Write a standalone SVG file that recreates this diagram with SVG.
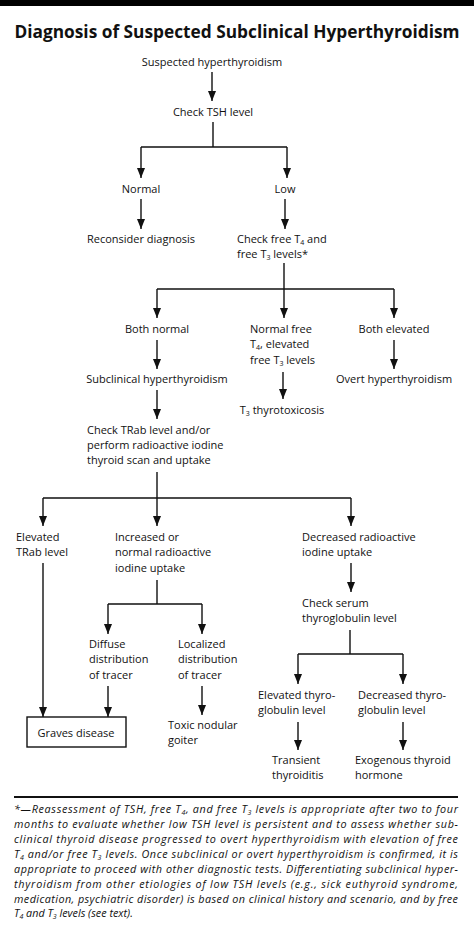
<svg xmlns="http://www.w3.org/2000/svg" width="474" height="928" viewBox="0 0 474 928">
<style>
text{font-family:"Open Sans","Noto Sans","Liberation Sans",sans-serif;font-size:11px;fill:#111}
.t{font-weight:bold;font-size:17.3px}
.m{text-anchor:middle}
.fn{font-style:italic;font-size:10.8px}
.c path{fill:none;stroke:#111;stroke-width:1.4}
.s{font-size:7px}
</style>
<defs>
<marker id="ah" markerUnits="userSpaceOnUse" markerWidth="10" markerHeight="8" refX="10" refY="4" orient="auto">
<path d="M0,0 L10,4 L0,8 Z" fill="#111"/>
</marker>
</defs>
<rect x="0" y="0" width="474" height="6" fill="#000"/>
<text class="t" x="237" y="38" text-anchor="middle">Diagnosis of Suspected Subclinical Hyperthyroidism</text>

<g class="c" id="connectors">
<path d="M212,72 V101" marker-end="url(#ah)"/>
<path d="M213,122 V147 M141,147 H287"/>
<path d="M141,147 V178" marker-end="url(#ah)"/>
<path d="M287,147 V178" marker-end="url(#ah)"/>
<path d="M141,199 V229" marker-end="url(#ah)"/>
<path d="M285,199 V229" marker-end="url(#ah)"/>
<path d="M284,263 V318" marker-end="url(#ah)"/>
<path d="M157,289 H394"/>
<path d="M157,289 V318" marker-end="url(#ah)"/>
<path d="M394,289 V318" marker-end="url(#ah)"/>
<path d="M157,340 V369" marker-end="url(#ah)"/>
<path d="M394,340 V369" marker-end="url(#ah)"/>
<path d="M283,372 V399" marker-end="url(#ah)"/>
<path d="M157,390 V419" marker-end="url(#ah)"/>
<path d="M157,472 V498 M43,498 H351"/>
<path d="M43,498 V526" marker-end="url(#ah)"/>
<path d="M157,498 V526" marker-end="url(#ah)"/>
<path d="M351,498 V526" marker-end="url(#ah)"/>
<path d="M43,563 V717" marker-end="url(#ah)"/>
<path d="M157,580 V604 M108,604 H202"/>
<path d="M108,604 V634" marker-end="url(#ah)"/>
<path d="M202,604 V634" marker-end="url(#ah)"/>
<path d="M108,686 V717" marker-end="url(#ah)"/>
<path d="M202,686 V715" marker-end="url(#ah)"/>
<path d="M351,563 V592" marker-end="url(#ah)"/>
<path d="M350,630 V654 M298,654 H403"/>
<path d="M298,654 V684" marker-end="url(#ah)"/>
<path d="M403,654 V684" marker-end="url(#ah)"/>
<path d="M298,722 V750" marker-end="url(#ah)"/>
<path d="M403,722 V750" marker-end="url(#ah)"/>
</g>

<g id="suspected"><text class="m" x="212" y="66">Suspected hyperthyroidism</text></g>
<g id="check-tsh"><text class="m" x="213" y="116">Check TSH level</text></g>
<g id="normal"><text class="m" x="141" y="193">Normal</text></g>
<g id="low"><text class="m" x="285" y="193">Low</text></g>
<g id="reconsider"><text class="m" x="141" y="243">Reconsider diagnosis</text></g>
<g id="check-free"><text x="237" y="243">Check free T<tspan class="s" dy="2">4</tspan><tspan dy="-2"> and</tspan></text>
<text x="237" y="258">free T<tspan class="s" dy="2">3</tspan><tspan dy="-2"> levels*</tspan></text></g>
<g id="both-normal"><text class="m" x="157" y="333">Both normal</text></g>
<g id="normal-free"><text x="250" y="333">Normal free</text>
<text x="250" y="348">T<tspan class="s" dy="2">4</tspan><tspan dy="-2">, elevated</tspan></text>
<text x="250" y="364">free T<tspan class="s" dy="2">3</tspan><tspan dy="-2"> levels</tspan></text></g>
<g id="both-elevated"><text class="m" x="394" y="333">Both elevated</text></g>
<g id="subclinical"><text class="m" x="157" y="383">Subclinical hyperthyroidism</text></g>
<g id="overt"><text class="m" x="394" y="383">Overt hyperthyroidism</text></g>
<g id="t3tox"><text class="m" x="282" y="414">T<tspan class="s" dy="2">3</tspan><tspan dy="-2"> thyrotoxicosis</tspan></text></g>
<g id="check-trab"><text x="87" y="434">Check TRab level and/or</text>
<text x="87" y="449">perform radioactive iodine</text>
<text x="87" y="464">thyroid scan and uptake</text></g>
<g id="elevated-trab"><text x="16" y="541">Elevated</text><text x="16" y="556">TRab level</text></g>
<g id="increased"><text x="115" y="541">Increased or</text><text x="115" y="556">normal radioactive</text><text x="115" y="572">iodine uptake</text></g>
<g id="decreased"><text x="302" y="541">Decreased radioactive</text><text x="302" y="556">iodine uptake</text></g>
<g id="serum"><text x="302" y="607">Check serum</text><text x="302" y="622">thyroglobulin level</text></g>
<g id="diffuse"><text x="89" y="648">Diffuse</text><text x="89" y="663">distribution</text><text x="89" y="679">of tracer</text></g>
<g id="localized"><text x="178" y="648">Localized</text><text x="178" y="663">distribution</text><text x="178" y="679">of tracer</text></g>
<g id="graves"><rect x="27" y="717" width="99" height="30" fill="#fff" stroke="#111" stroke-width="1.4"/><text class="m" x="76" y="737">Graves disease</text></g>
<g id="toxic"><text x="168" y="729">Toxic nodular</text><text x="168" y="744">goiter</text></g>
<g id="elev-thyro"><text x="258" y="699">Elevated thyro-</text><text x="258" y="714">globulin level</text></g>
<g id="decr-thyro"><text x="358" y="699">Decreased thyro-</text><text x="358" y="714">globulin level</text></g>
<g id="transient"><text x="272" y="764">Transient</text><text x="272" y="779">thyroiditis</text></g>
<g id="exogenous"><text x="355" y="764">Exogenous thyroid</text><text x="355" y="779">hormone</text></g>

<path d="M14,797 H458" stroke="#111" stroke-width="2"/>
<g id="footnote">
<text class="fn" x="14" y="813" textLength="444" lengthAdjust="spacing">*—Reassessment of TSH, free T<tspan class="s" dy="2">4</tspan><tspan dy="-2">, and free T</tspan><tspan class="s" dy="2">3</tspan><tspan dy="-2"> levels is appropriate after two to four</tspan></text>
<text class="fn" x="14" y="828" textLength="444" lengthAdjust="spacing">months to evaluate whether low TSH level is persistent and to assess whether sub-</text>
<text class="fn" x="14" y="843" textLength="444" lengthAdjust="spacing">clinical thyroid disease progressed to overt hyperthyroidism with elevation of free</text>
<text class="fn" x="14" y="858" textLength="444" lengthAdjust="spacing">T<tspan class="s" dy="2">4</tspan><tspan dy="-2"> and/or free T</tspan><tspan class="s" dy="2">3</tspan><tspan dy="-2"> levels. Once subclinical or overt hyperthyroidism is confirmed, it is</tspan></text>
<text class="fn" x="14" y="873" textLength="444" lengthAdjust="spacing">appropriate to proceed with other diagnostic tests. Differentiating subclinical hyper-</text>
<text class="fn" x="14" y="888" textLength="444" lengthAdjust="spacing">thyroidism from other etiologies of low TSH levels (e.g., sick euthyroid syndrome,</text>
<text class="fn" x="14" y="903" textLength="444" lengthAdjust="spacing">medication, psychiatric disorder) is based on clinical history and scenario, and by free</text>
<text class="fn" x="14" y="917">T<tspan class="s" dy="2">4</tspan><tspan dy="-2"> and T</tspan><tspan class="s" dy="2">3</tspan><tspan dy="-2"> levels (see text).</tspan></text>
</g>
</svg>
